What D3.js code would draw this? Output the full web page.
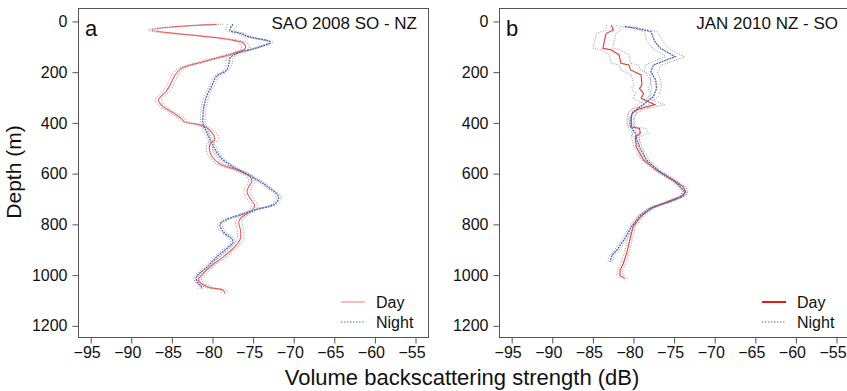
<!DOCTYPE html>
<html><head><meta charset="utf-8">
<script src="https://cdn.jsdelivr.net/npm/d3@7"></script>
<style>body{margin:0;background:#fff}svg{display:block;font-family:"Liberation Sans",Arial,Helvetica,sans-serif}</style>
</head><body>
<svg id="c" width="847" height="391"></svg>
<script>
// x ticks and y ticks
const xTicks = [-95, -90, -85, -80, -75, -70, -65, -60, -55];
const yTicks = [0, 200, 400, 600, 800, 1000, 1200];
const panelLetters = ["a", "b"];
const panelTitles = ["SAO 2008 SO - NZ", "JAN 2010 NZ - SO"];
const legendLabels = ["Day", "Night"];

// [depth (m), Sv (dB), half-width of dotted envelope (dB)]
const aDay = [[13,-79.4,0.8],[36,-87.4,0.5],[88,-76.1,0.5],[108,-75.9,0.5],[128,-77.4,0.4],[160,-81.0,0.4],[190,-83.9,0.4],[222,-84.7,0.4],[255,-85.2,0.4],[280,-85.7,0.4],[312,-86.6,0.4],[338,-86.0,0.4],[360,-84.9,0.4],[384,-83.8,0.4],[397,-83.4,0.4],[410,-81.5,0.4],[424,-80.5,0.4],[450,-79.8,0.5],[470,-79.7,0.5],[483,-80.2,0.4],[522,-80.2,0.4],[562,-79.1,0.4],[588,-76.9,0.4],[615,-75.3,0.4],[634,-75.1,0.4],[655,-75.5,0.4],[674,-75.7,0.4],[700,-75.3,0.4],[722,-74.8,0.4],[735,-74.8,0.4],[753,-75.3,0.4],[772,-76.3,0.4],[792,-76.7,0.4],[825,-76.5,0.4],[858,-76.5,0.4],[891,-77.2,0.4],[930,-78.6,0.4],[963,-80.0,0.4],[1000,-81.2,0.4],[1022,-81.7,0.4],[1049,-80.5,0.4],[1062,-78.6,0.4],[1075,-78.4,0.4]];
const aNight = [[13,-77.4,0.7],[36,-77.8,0.5],[49,-76.5,0.4],[62,-75.5,0.4],[84,-72.8,0.3],[108,-74.7,0.3],[128,-76.9,0.3],[147,-77.8,0.4],[167,-77.9,0.4],[193,-78.2,0.3],[220,-79.5,0.3],[255,-80.0,0.3],[292,-80.6,0.3],[338,-81.0,0.3],[370,-81.1,0.3],[404,-81.1,0.3],[443,-80.6,0.3],[483,-80.0,0.3],[536,-79.0,0.3],[575,-77.4,0.3],[605,-75.6,0.3],[650,-73.3,0.3],[694,-71.8,0.3],[722,-72.3,0.3],[742,-74.4,0.3],[762,-76.3,0.3],[786,-78.4,0.3],[802,-79.0,0.3],[832,-78.6,0.3],[858,-77.6,0.3],[872,-77.4,0.3],[895,-78.1,0.3],[930,-79.4,0.3],[970,-80.6,0.3],[1009,-81.9,0.3],[1029,-81.8,0.3],[1049,-81.3,0.3],[1055,-81.5,0.3]];
const bDay = [[16,-82.7,0.6],[36,-82.4,0.9],[49,-83.3,1.2],[75,-83.5,1.2],[108,-83.7,1.2],[114,-82.7,1.2],[134,-81.7,1.2],[167,-81.5,1.2],[174,-80.5,1.2],[193,-80.3,1.2],[213,-79.0,1.2],[253,-78.9,1.0],[266,-79.2,1.0],[286,-78.7,1.0],[305,-79.0,1.0],[316,-78.3,1.0],[330,-77.3,1.2],[348,-79.4,0.8],[364,-80.1,0.5],[380,-80.2,0.4],[417,-80.2,0.4],[424,-79.2,0.8],[443,-79.1,1.0],[457,-79.7,0.5],[496,-79.6,0.3],[549,-78.7,0.3],[588,-77.1,0.3],[628,-75.0,0.3],[654,-73.8,0.3],[675,-73.5,0.3],[694,-74.2,0.3],[720,-76.3,0.3],[740,-77.9,0.3],[773,-79.1,0.3],[812,-80.0,0.3],[865,-80.4,0.3],[917,-80.8,0.3],[957,-81.2,0.3],[983,-81.6,0.3],[1003,-81.6,0.4],[1016,-81.0,0.4]];
const bNight = [[22,-81.0,0.6],[29,-79.6,0.6],[42,-77.8,0.8],[82,-77.3,1.0],[108,-76.6,1.0],[134,-75.2,1.0],[141,-74.8,1.2],[154,-75.9,1.2],[174,-77.5,1.0],[200,-77.8,0.8],[233,-77.2,0.6],[266,-77.1,0.6],[299,-77.5,0.6],[318,-78.3,0.6],[338,-79.1,0.6],[358,-80.0,0.5],[380,-80.3,0.4],[410,-80.4,0.4],[443,-79.7,0.4],[470,-79.5,0.3],[503,-79.1,0.3],[549,-78.3,0.3],[595,-76.7,0.3],[634,-74.8,0.3],[674,-73.6,0.3],[690,-73.8,0.3],[713,-75.5,0.3],[733,-77.5,0.3],[766,-79.1,0.3],[812,-80.2,0.3],[858,-81.0,0.3],[904,-82.0,0.3],[924,-82.6,0.3],[950,-82.8,0.3]];

const svg = d3.select("#c");
const panels = [
  {x0: 78, day: aDay, night: aNight, dayCol: "#ec5a5a", dayLeg: "#ee7a7a", dayLegW: 1, curve: d3.curveCatmullRom.alpha(0.5)},
  {x0: 499, day: bDay, night: bNight, dayCol: "#e8383a", dayLeg: "#e3191c", dayLegW: 2, curve: d3.curveLinear}
];
const W = 350, plotTop = 8, plotBottom = 337;
const nightCol = "#4a68bb";

panels.forEach((p, i) => {
  const x = d3.scaleLinear().domain([-96.5, -53.4]).range([p.x0, p.x0 + W]);
  const y = d3.scaleLinear().domain([-51, 1246]).range([plotTop, plotBottom]);
  const g = svg.append("g");
  g.append("rect").attr("x", p.x0 + 0.5).attr("y", plotTop + 0.5).attr("width", W).attr("height", plotBottom - plotTop)
    .attr("fill", "none").attr("stroke", "#555").attr("stroke-width", 1);

  const fmt = d => (d < 0 ? "\u2212" + Math.abs(d) : "" + d);
  const xa = g.append("g").attr("transform", `translate(0.5,${plotBottom + 0.5})`)
    .call(d3.axisBottom(x).tickValues(xTicks).tickFormat(fmt).tickSize(6).tickPadding(3));
  xa.select(".domain").remove();
  xa.selectAll("line").attr("stroke", "#555");
  xa.selectAll("text").attr("font-size", 16).attr("fill", "#111").attr("dx", -4);

  const ya = g.append("g").attr("transform", `translate(${p.x0 + 0.5},0.5)`)
    .call(d3.axisLeft(y).tickValues(yTicks).tickFormat(d3.format("d")).tickSize(6).tickPadding(5));
  ya.select(".domain").remove();
  ya.selectAll("line").attr("stroke", "#555");
  ya.selectAll("text").attr("font-size", 16).attr("fill", "#111");

  const clip = "clip" + i;
  svg.append("clipPath").attr("id", clip).append("rect").attr("x", p.x0).attr("y", plotTop).attr("width", W).attr("height", plotBottom - plotTop);
  const pg = g.append("g").attr("clip-path", `url(#${clip})`);

  const mk = (off) => d3.line().curve(p.curve).x(d => x(d[1] + off * d[2])).y(d => y(d[0]));
  [p.day, p.night].forEach(s => {
    [-1, 1].forEach(sg => pg.append("path").attr("d", mk(sg)(s)).attr("fill", "none")
      .attr("stroke", "#8a8a8a").attr("stroke-width", 0.9).attr("stroke-dasharray", "1,1.5"));
  });
  pg.append("path").attr("d", mk(0)(p.day)).attr("fill", "none").attr("stroke", p.dayCol).attr("stroke-width", 1.1);
  pg.append("path").attr("d", mk(0)(p.night)).attr("fill", "none").attr("stroke", nightCol).attr("stroke-width", 1.3).attr("stroke-dasharray", "2,0.8");

  g.append("text").attr("x", p.x0 + 7).attr("y", 36).attr("font-size", 22).attr("fill", "#111").text(panelLetters[i]);
  g.append("text").attr("x", p.x0 + 339).attr("y", 29).attr("text-anchor", "end").attr("font-size", 17).attr("fill", "#111").text(panelTitles[i]);

  // legend
  const lx = p.x0 + 263, ly = 302;
  g.append("line").attr("x1", lx).attr("x2", lx + 24).attr("y1", ly).attr("y2", ly).attr("stroke", p.dayLeg).attr("stroke-width", p.dayLegW);
  g.append("line").attr("x1", lx).attr("x2", lx + 24).attr("y1", ly + 20).attr("y2", ly + 20).attr("stroke", nightCol).attr("stroke-width", 1).attr("stroke-dasharray", "1.5,1.5");
  g.append("text").attr("x", lx + 35).attr("y", ly + 6).attr("font-size", 16).attr("fill", "#111").text(legendLabels[0]);
  g.append("text").attr("x", lx + 35).attr("y", ly + 26).attr("font-size", 16).attr("fill", "#111").text(legendLabels[1]);
});

svg.append("text").attr("x", 462).attr("y", 385).attr("text-anchor", "middle").attr("font-size", 22).attr("fill", "#111")
  .text("Volume backscattering strength (dB)");
svg.append("text").attr("transform", "translate(21,172) rotate(-90)").attr("text-anchor", "middle").attr("font-size", 21).attr("fill", "#111")
  .text("Depth (m)");
</script>
</body></html>
